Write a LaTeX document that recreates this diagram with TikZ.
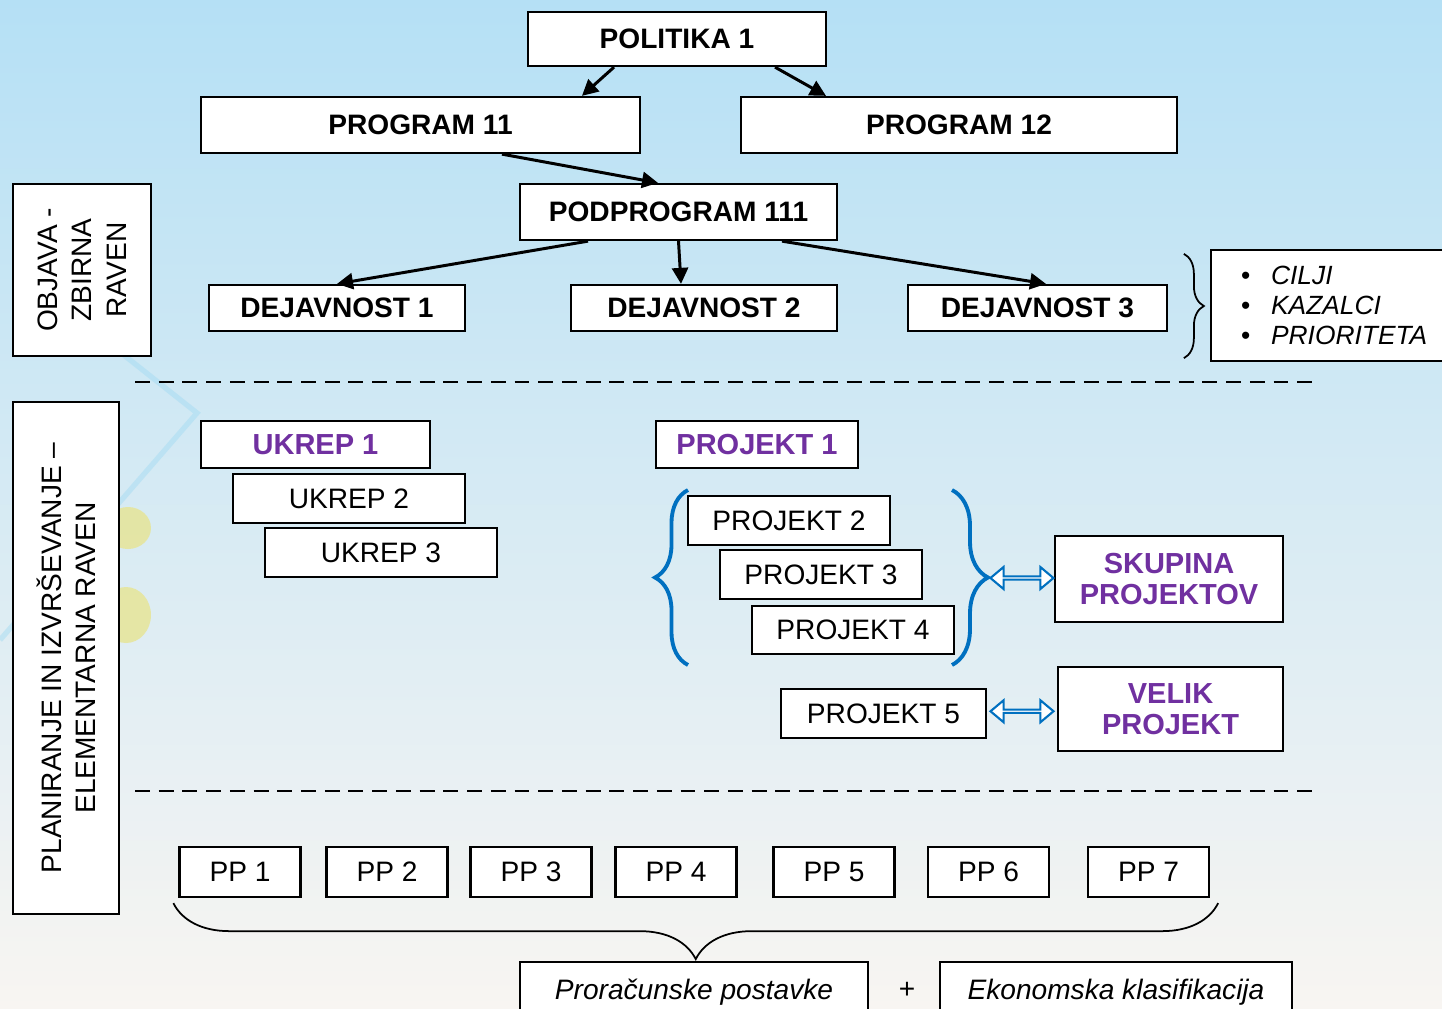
\documentclass[tikz,border=0pt]{standalone}
\usepackage{fontspec}
\setmainfont{Liberation Sans}
\usetikzlibrary{arrows.meta,calc,decorations.pathreplacing,shapes.arrows}
\definecolor{purp}{RGB}{112,48,160}
\definecolor{braceblue}{RGB}{0,112,192}
\definecolor{bgtop}{RGB}{181,224,245}
\definecolor{bgmid}{RGB}{214,236,246}
\definecolor{bgbot}{RGB}{248,245,242}
\definecolor{blob}{RGB}{232,228,140}

\begin{document}
\begin{tikzpicture}[x=0.02cm,y=-0.02cm,
        box/.style={draw,fill=white,line width=1.3pt,inner sep=0pt},
        hd/.style={box,font=\fontsize{16}{19}\selectfont\bfseries},
        pl/.style={box,font=\fontsize{16}{19.5}\selectfont,align=center},
        pu/.style={box,font=\fontsize{16.5}{18}\selectfont\bfseries,text=purp,align=center},
        arr/.style={-{Triangle[length=0.32cm,width=0.32cm]},line width=1.7pt},
        sep/.style={line width=0.8pt,dash pattern=on 8.5pt off 5pt},
        bbrace/.style={braceblue,line width=2.2pt,decorate,decoration={brace,amplitude=#1}},
        dbl/.style={double arrow,draw=braceblue,fill=white,line width=1.2pt,inner sep=0pt,
            minimum height=1.26cm,minimum width=0.44cm,double arrow head extend=0.12cm,
            double arrow tip angle=80}]
        \clip (0,0) rectangle (1442,1008);
        \fill [top color=bgtop,middle color=bgmid,bottom color=bgbot] (0,0) rectangle (1442,1008);
        \draw [line width=3pt,color={rgb,255:red,160;green,218;blue,242},opacity=.45] (120,352) -- (197,413) -- (0,640);
        \fill [blob,opacity=.75] (128,528) ellipse [x radius=0.46cm,y radius=0.42cm];
        \fill [blob,opacity=.75] (126,615) ellipse [x radius=0.5cm,y radius=0.56cm];

        % zbirna raven
        \node [hd,minimum width=5.96cm,minimum height=1.08cm] (pol) at (677,39) {POLITIKA 1};
        \node [hd,minimum width=8.78cm,minimum height=1.12cm] (p11) at (420.5,125) {PROGRAM 11};
        \node [hd,minimum width=8.72cm,minimum height=1.12cm] (p12) at (959,125) {PROGRAM 12};
        \node [hd,minimum width=6.34cm,minimum height=1.12cm] (pod) at (678.5,212) {PODPROGRAM 111};
        \node [hd,minimum width=5.12cm,minimum height=0.92cm] (d1) at (337,308) {DEJAVNOST 1};
        \node [hd,minimum width=5.32cm,minimum height=0.92cm] (d2) at (704,308) {DEJAVNOST 2};
        \node [hd,minimum width=5.18cm,minimum height=0.92cm] (d3) at (1037.5,308) {DEJAVNOST 3};

        \draw [arr] ([xshift=-1.26cm]pol.south) -- ([xshift=3.23cm]p11.north);
        \draw [arr] ([xshift=1.96cm]pol.south) -- ([xshift=-2.66cm]p12.north);
        \draw [arr] ([xshift=1.63cm]p11.south) -- ([xshift=-0.41cm]pod.north);
        \draw [arr] ([xshift=-1.81cm]pod.south) -- (d1.north);
        \draw [arr] (pod.south) -- ([xshift=-0.46cm]d2.north);
        \draw [arr] ([xshift=2.07cm]pod.south) -- ([xshift=0.17cm]d3.north);

        \node [box,minimum width=4.82cm,minimum height=2.22cm] (bul) at (1331.5,305.5) {};
        \node [anchor=west,align=left,inner sep=0pt,font=\fontsize{15}{17}\selectfont] (cilji)
            at ([xshift=0.62cm]bul.west)
            {\makebox[17pt][l]{\textbullet}\textit{CILJI}\\
             \makebox[17pt][l]{\textbullet}\textit{KAZALCI}\\
             \makebox[17pt][l]{\textbullet}\textit{PRIORITETA}};
        \draw [line width=1pt,decorate,decoration={brace,amplitude=0.4cm}]
            ([xshift=-0.52cm,yshift=-0.1cm]bul.north west) -- ([xshift=-0.52cm,yshift=0.08cm]bul.south west);

        \node [pl,rotate=90,minimum width=3.44cm,minimum height=2.76cm] (objava) at (82,270) {OBJAVA -\\ZBIRNA\\RAVEN};
        \draw [sep] (135,382) -- (1318,382);

        % elementarna raven
        \node [pl,rotate=90,minimum width=10.24cm,minimum height=2.12cm] (plan) at (66,658)
            {PLANIRANJE IN IZVRŠEVANJE –\\ELEMENTARNA RAVEN};
        \node [pu,minimum width=4.58cm,minimum height=0.94cm] (u1) at (315.5,444.5) {UKREP 1};
        \node [pl,minimum width=4.64cm,minimum height=0.98cm] (u2) at (349,498.5) {UKREP 2};
        \node [pl,minimum width=4.64cm,minimum height=0.98cm] (u3) at (381,552.5) {UKREP 3};

        \node [pu,minimum width=4.04cm,minimum height=0.94cm] (pr1) at (757,444.5) {PROJEKT 1};
        \node [pl,minimum width=4.04cm,minimum height=0.98cm] (pr2) at (789,520.5) {PROJEKT 2};
        \node [pl,minimum width=4.04cm,minimum height=0.98cm] (pr3) at (821,574.5) {PROJEKT 3};
        \node [pl,minimum width=4.04cm,minimum height=0.96cm] (pr4) at (853,630) {PROJEKT 4};
        \node [pl,minimum width=4.1cm,minimum height=0.98cm] (pr5) at (883.5,713.5) {PROJEKT 5};
        \node [pu,minimum width=4.56cm,minimum height=1.72cm] (skup) at (1169,579) {SKUPINA\\PROJEKTOV};
        \node [pu,minimum width=4.5cm,minimum height=1.68cm] (velik) at (1170.5,709) {VELIK\\PROJEKT};

        \draw [bbrace=0.66cm] (688,665) -- (688,490);
        \draw [bbrace=0.72cm] (952,490) -- (952,665);
        \coordinate (brR) at (990,577);
        \node [dbl] (da1) at ($(brR)!0.5!(skup.west)$) {};
        \node [dbl] (da2) at ($(pr5.east)!0.5!(velik.west)$) {};

        \draw [sep] (135,791) -- (1318,791);

        % proracunske postavke
        \foreach \n/\cx in {1/240,2/387,3/531,4/676,5/834,6/988.5,7/1148.5}
            \node [pl,minimum width=2.42cm,minimum height=1cm] (pp\n) at (\cx,872) {PP \n};
        \draw [line width=1pt,decorate,decoration={brace,mirror,amplitude=1.12cm}]
            ([xshift=-0.1cm,yshift=-0.1cm]pp1.south west) -- ([xshift=0.16cm,yshift=-0.1cm]pp7.south east);
        \node [pl,minimum width=6.96cm,minimum height=1.2cm] (prorac) at (694,992) {\textit{Proračunske postavke}};
        \node [pl,minimum width=7.04cm,minimum height=1.2cm] (ekon) at (1116,992) {\textit{Ekonomska klasifikacija}};
        \node [font=\fontsize{16}{19}\selectfont] (plus) at (907,990) {+};
    \end{tikzpicture}
\end{document}
